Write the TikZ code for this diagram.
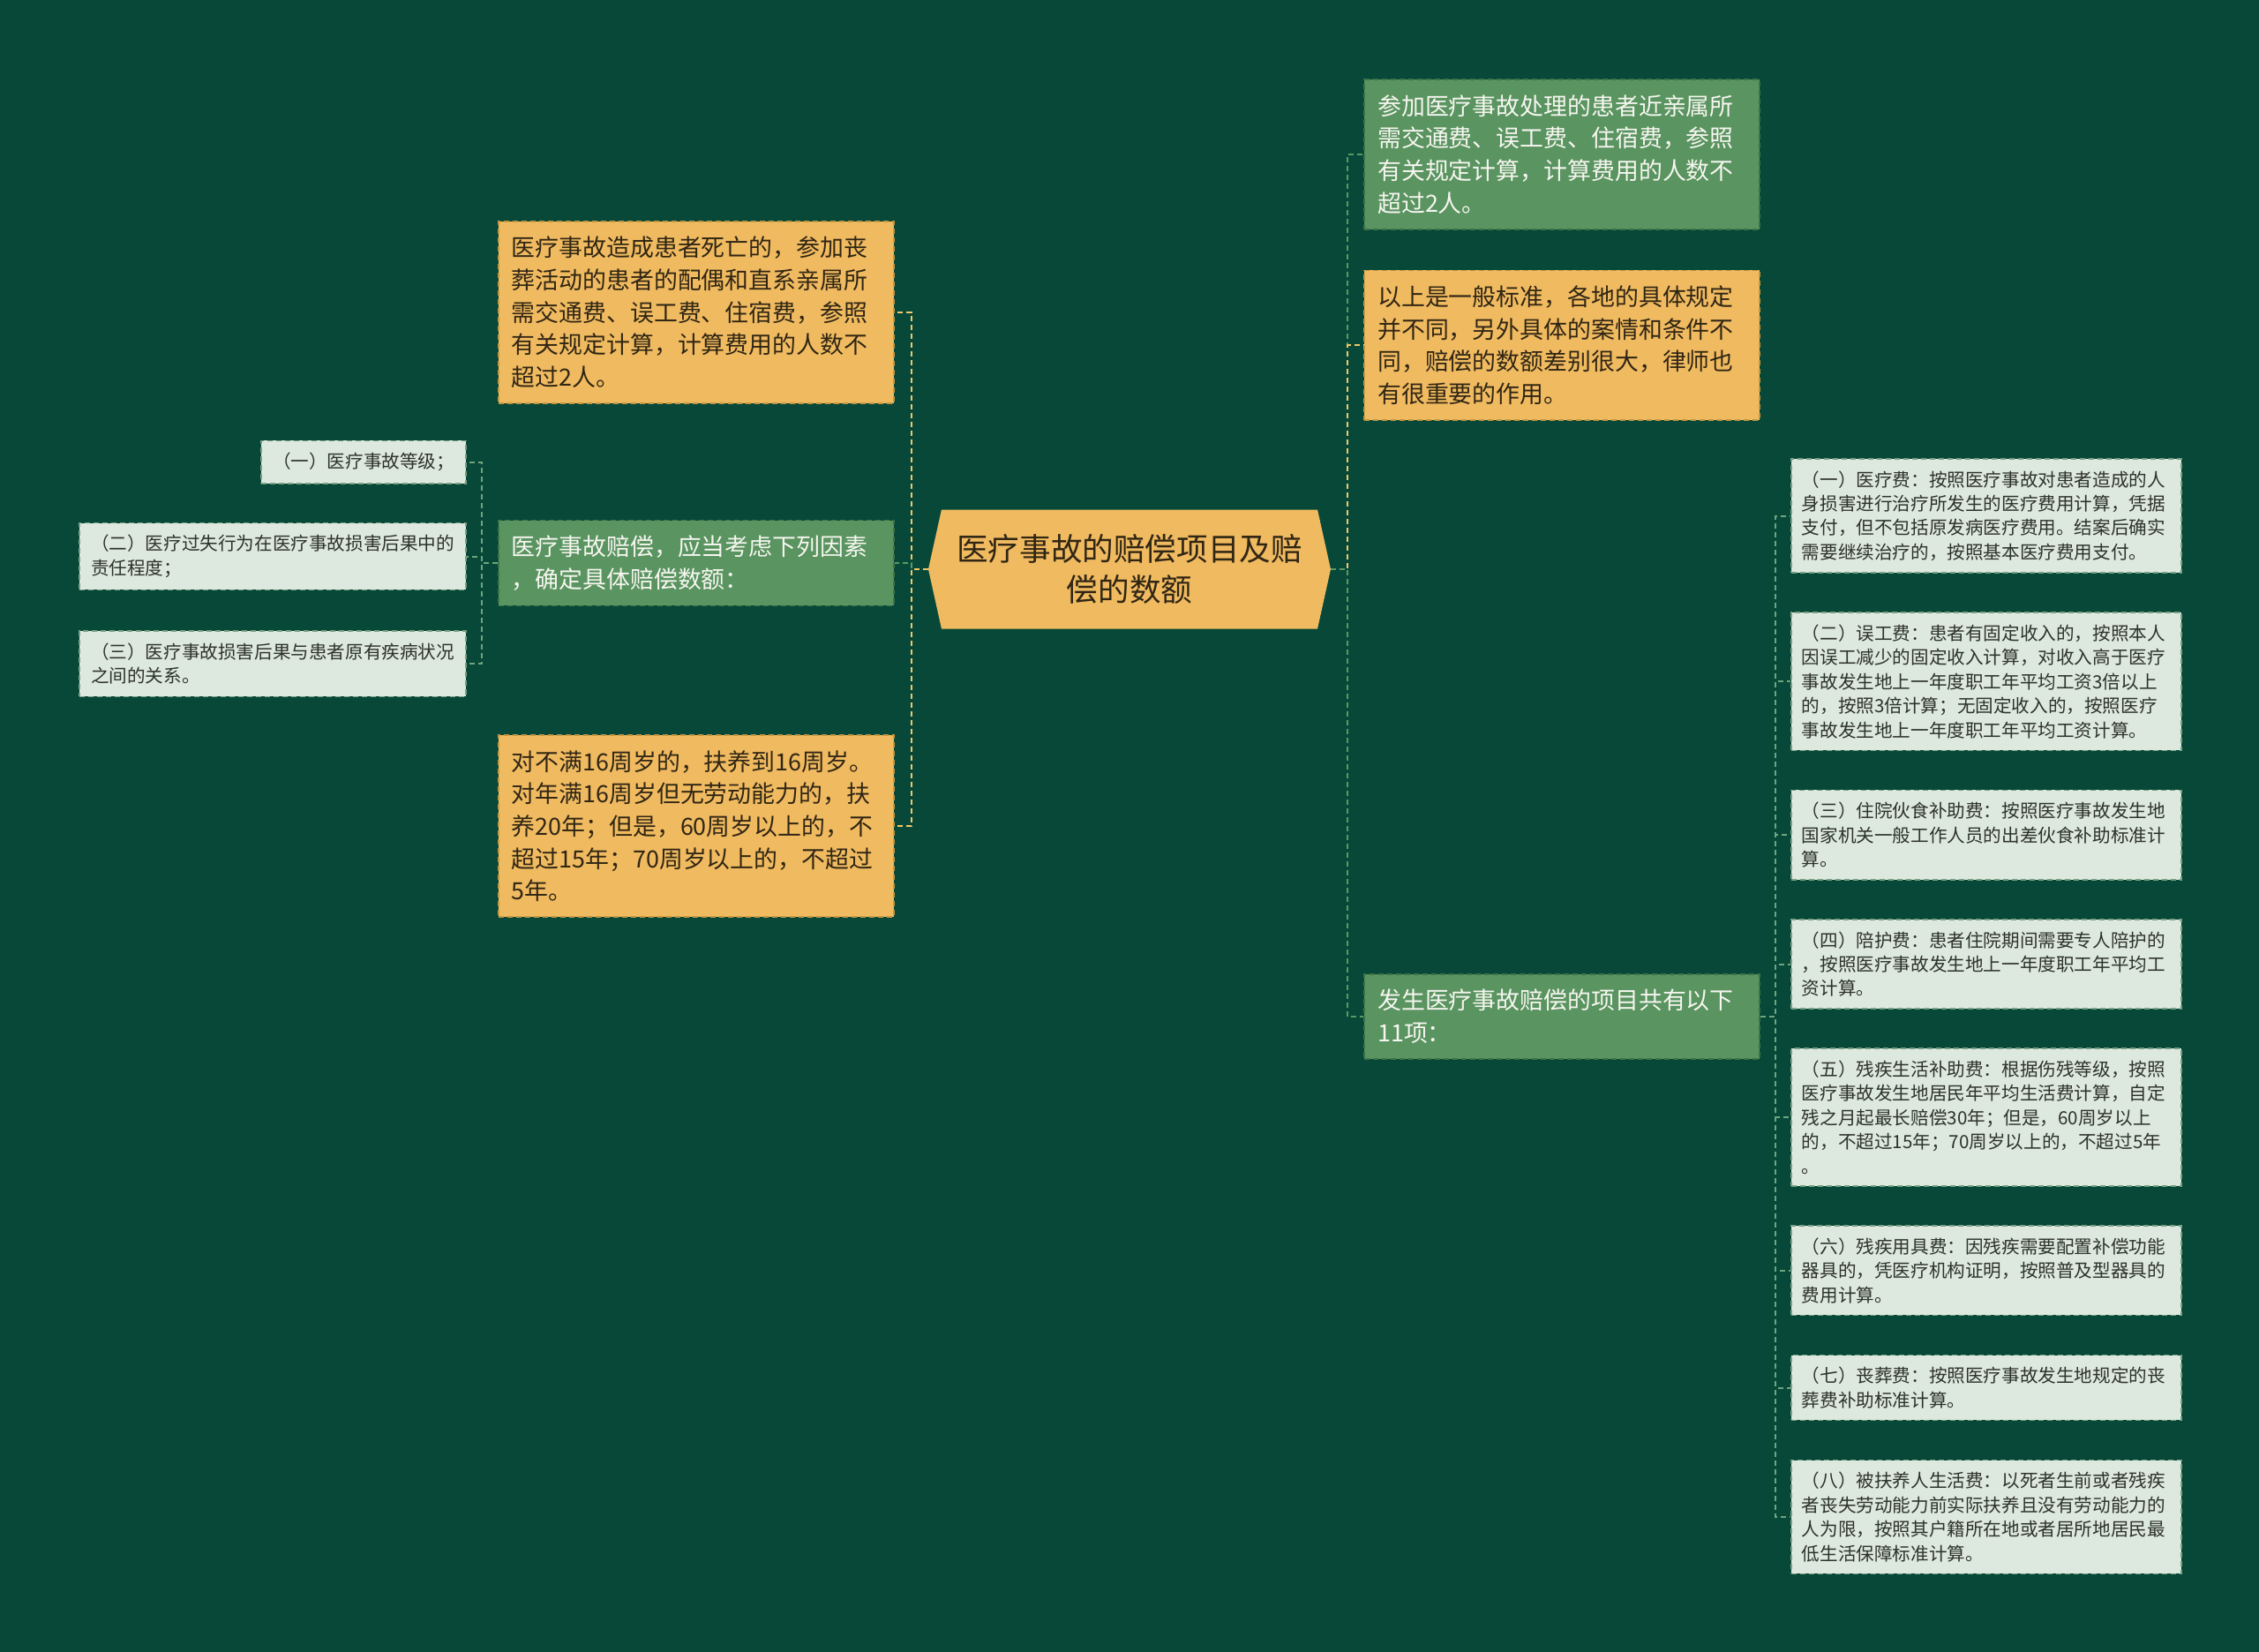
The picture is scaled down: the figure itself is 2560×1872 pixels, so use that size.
\documentclass[tikz,border=0pt]{standalone}
\usepackage{fontspec}
\setmainfont{Noto Sans CJK SC}
\usepackage{xcolor}
\usepackage{tikz}
\usetikzlibrary{shapes.symbols, positioning, calc}
\definecolor{bgdark}{RGB}{8,72,57}
\definecolor{fillorange}{RGB}{240,186,96}
\definecolor{fillgreen}{RGB}{90,148,96}
\definecolor{fillpale}{RGB}{221,232,222}
\definecolor{edgeorange}{RGB}{196,150,64}
\definecolor{edgegreen}{RGB}{60,115,70}
\definecolor{edgepale}{RGB}{120,160,130}
\definecolor{lineorange}{RGB}{240,200,105}
\definecolor{linegreen}{RGB}{92,152,100}
\definecolor{linepale}{RGB}{110,165,125}
\definecolor{textdark}{RGB}{48,38,20}
\definecolor{textlight}{RGB}{246,246,240}
\definecolor{textgray}{RGB}{45,50,45}
\tikzstyle{box} = [rectangle, align=left, dash pattern=on 3pt off 2pt, line width=0.8pt]
\tikzstyle{orangebox} = [box, text width=209pt, inner xsep=7.5pt, inner ysep=8.6pt, font=\fontsize{13.45pt}{18.35pt}\selectfont, fill=fillorange, draw=edgeorange, text=textdark]
\tikzstyle{greenbox} = [box, text width=209pt, inner xsep=7.5pt, inner ysep=8.6pt, font=\fontsize{13.45pt}{18.35pt}\selectfont, fill=fillgreen, draw=edgegreen, text=textlight]
\tikzstyle{leafbox} = [box, text width=209pt, inner xsep=6pt, inner ysep=6.8pt, font=\fontsize{10.3pt}{13.7pt}\selectfont, fill=fillpale, draw=edgepale, text=textgray]
\tikzstyle{factorbox} = [box, inner xsep=6.5pt, inner ysep=6.9pt, font=\fontsize{10.3pt}{13.7pt}\selectfont, fill=fillpale, draw=edgepale, text=textgray]
\tikzstyle{titlebox} = [signal, signal to=west and east, signal pointer angle=155, fill=fillorange, text=textdark, align=center, font=\fontsize{17.8pt}{23.3pt}\selectfont, minimum width=228pt, minimum height=67.5pt]
\tikzstyle{link} = [dash pattern=on 3pt off 2pt, line width=1pt]

\begin{document}
\begin{tikzpicture}[x=0.5pt, y=-0.5pt, node distance=21.75pt]
    \fill [bgdark] (0,0) rectangle (2560,1872);
    \useasboundingbox (0,0) rectangle (2560,1872);

    \node (title) [titlebox] at (1280,645) {医疗事故的赔偿项目及赔\\偿的数额};

    % left side
    \node (factor) [greenbox, left=19pt of title, yshift=3.5pt] {医疗事故赔偿，应当考虑下列因素\\，确定具体赔偿数额：};
    \node (funeral) [orangebox, above=65.5pt of factor] {医疗事故造成患者死亡的，参加丧\\葬活动的患者的配偶和直系亲属所\\需交通费、误工费、住宿费，参照\\有关规定计算，计算费用的人数不\\超过2人。};
    \node (support) [orangebox, below=72.5pt of factor] {对不满16周岁的，扶养到16周岁。\\对年满16周岁但无劳动能力的，扶\\养20年；但是，60周岁以上的，不\\超过15年；70周岁以上的，不超过\\5年。};

    \node (grade2) [factorbox, left=17.5pt of factor, yshift=3.75pt] {（二）医疗过失行为在医疗事故损害后果中的\\责任程度；};
    \node (grade1) [factorbox, above left=21.5pt and 0pt of grade2.north east] {（一）医疗事故等级；};
    \node (grade3) [factorbox, below=22.5pt of grade2] {（三）医疗事故损害后果与患者原有疾病状况\\之间的关系。};

    % right side
    \node (transit) [greenbox, right=18.5pt of title, yshift=235pt] {参加医疗事故处理的患者近亲属所\\需交通费、误工费、住宿费，参照\\有关规定计算，计算费用的人数不\\超过2人。};
    \node (general) [orangebox, below=22.5pt of transit] {以上是一般标准，各地的具体规定\\并不同，另外具体的案情和条件不\\同，赔偿的数额差别很大，律师也\\有很重要的作用。};
    \node (items) [greenbox, right=18.5pt of title, yshift=-253.5pt] {发生医疗事故赔偿的项目共有以下\\11项：};

    \node (fee1) [leafbox, right=17pt of items, yshift=283.75pt] {（一）医疗费：按照医疗事故对患者造成的人\\身损害进行治疗所发生的医疗费用计算，凭据\\支付，但不包括原发病医疗费用。结案后确实\\需要继续治疗的，按照基本医疗费用支付。};
    \node (fee2) [leafbox, below=of fee1] {（二）误工费：患者有固定收入的，按照本人\\因误工减少的固定收入计算，对收入高于医疗\\事故发生地上一年度职工年平均工资3倍以上\\的，按照3倍计算；无固定收入的，按照医疗\\事故发生地上一年度职工年平均工资计算。};
    \node (fee3) [leafbox, below=of fee2] {（三）住院伙食补助费：按照医疗事故发生地\\国家机关一般工作人员的出差伙食补助标准计\\算。};
    \node (fee4) [leafbox, below=of fee3] {（四）陪护费：患者住院期间需要专人陪护的\\，按照医疗事故发生地上一年度职工年平均工\\资计算。};
    \node (fee5) [leafbox, below=of fee4] {（五）残疾生活补助费：根据伤残等级，按照\\医疗事故发生地居民年平均生活费计算，自定\\残之月起最长赔偿30年；但是，60周岁以上\\的，不超过15年；70周岁以上的，不超过5年\\。};
    \node (fee6) [leafbox, below=of fee5] {（六）残疾用具费：因残疾需要配置补偿功能\\器具的，凭医疗机构证明，按照普及型器具的\\费用计算。};
    \node (fee7) [leafbox, below=of fee6] {（七）丧葬费：按照医疗事故发生地规定的丧\\葬费补助标准计算。};
    \node (fee8) [leafbox, below=of fee7] {（八）被扶养人生活费：以死者生前或者残疾\\者丧失劳动能力前实际扶养且没有劳动能力的\\人为限，按照其户籍所在地或者居所地居民最\\低生活保障标准计算。};

    % connectors
    \draw [link, draw=lineorange] (title.west) -- ++(-19,0) |- (funeral.east);
    \draw [link, draw=linegreen] (title.west) -- ++(-19,0) |- (factor.east);
    \draw [link, draw=lineorange] (title.west) -- ++(-19,0) |- (support.east);
    \draw [link, draw=linepale] (factor.west) -- ++(-18,0) |- (grade1.east);
    \draw [link, draw=linepale] (factor.west) -- ++(-18,0) |- (grade2.east);
    \draw [link, draw=linepale] (factor.west) -- ++(-18,0) |- (grade3.east);
    \draw [link, draw=linegreen] (title.east) -- ++(19,0) |- (transit.west);
    \draw [link, draw=lineorange] (title.east) -- ++(19,0) |- (general.west);
    \draw [link, draw=linegreen] (title.east) -- ++(19,0) |- (items.west);
    \foreach \i in {1,...,8}
        \draw [link, draw=linepale] (items.east) -- ++(17,0) |- (fee\i.west);
\end{tikzpicture}
\end{document}
